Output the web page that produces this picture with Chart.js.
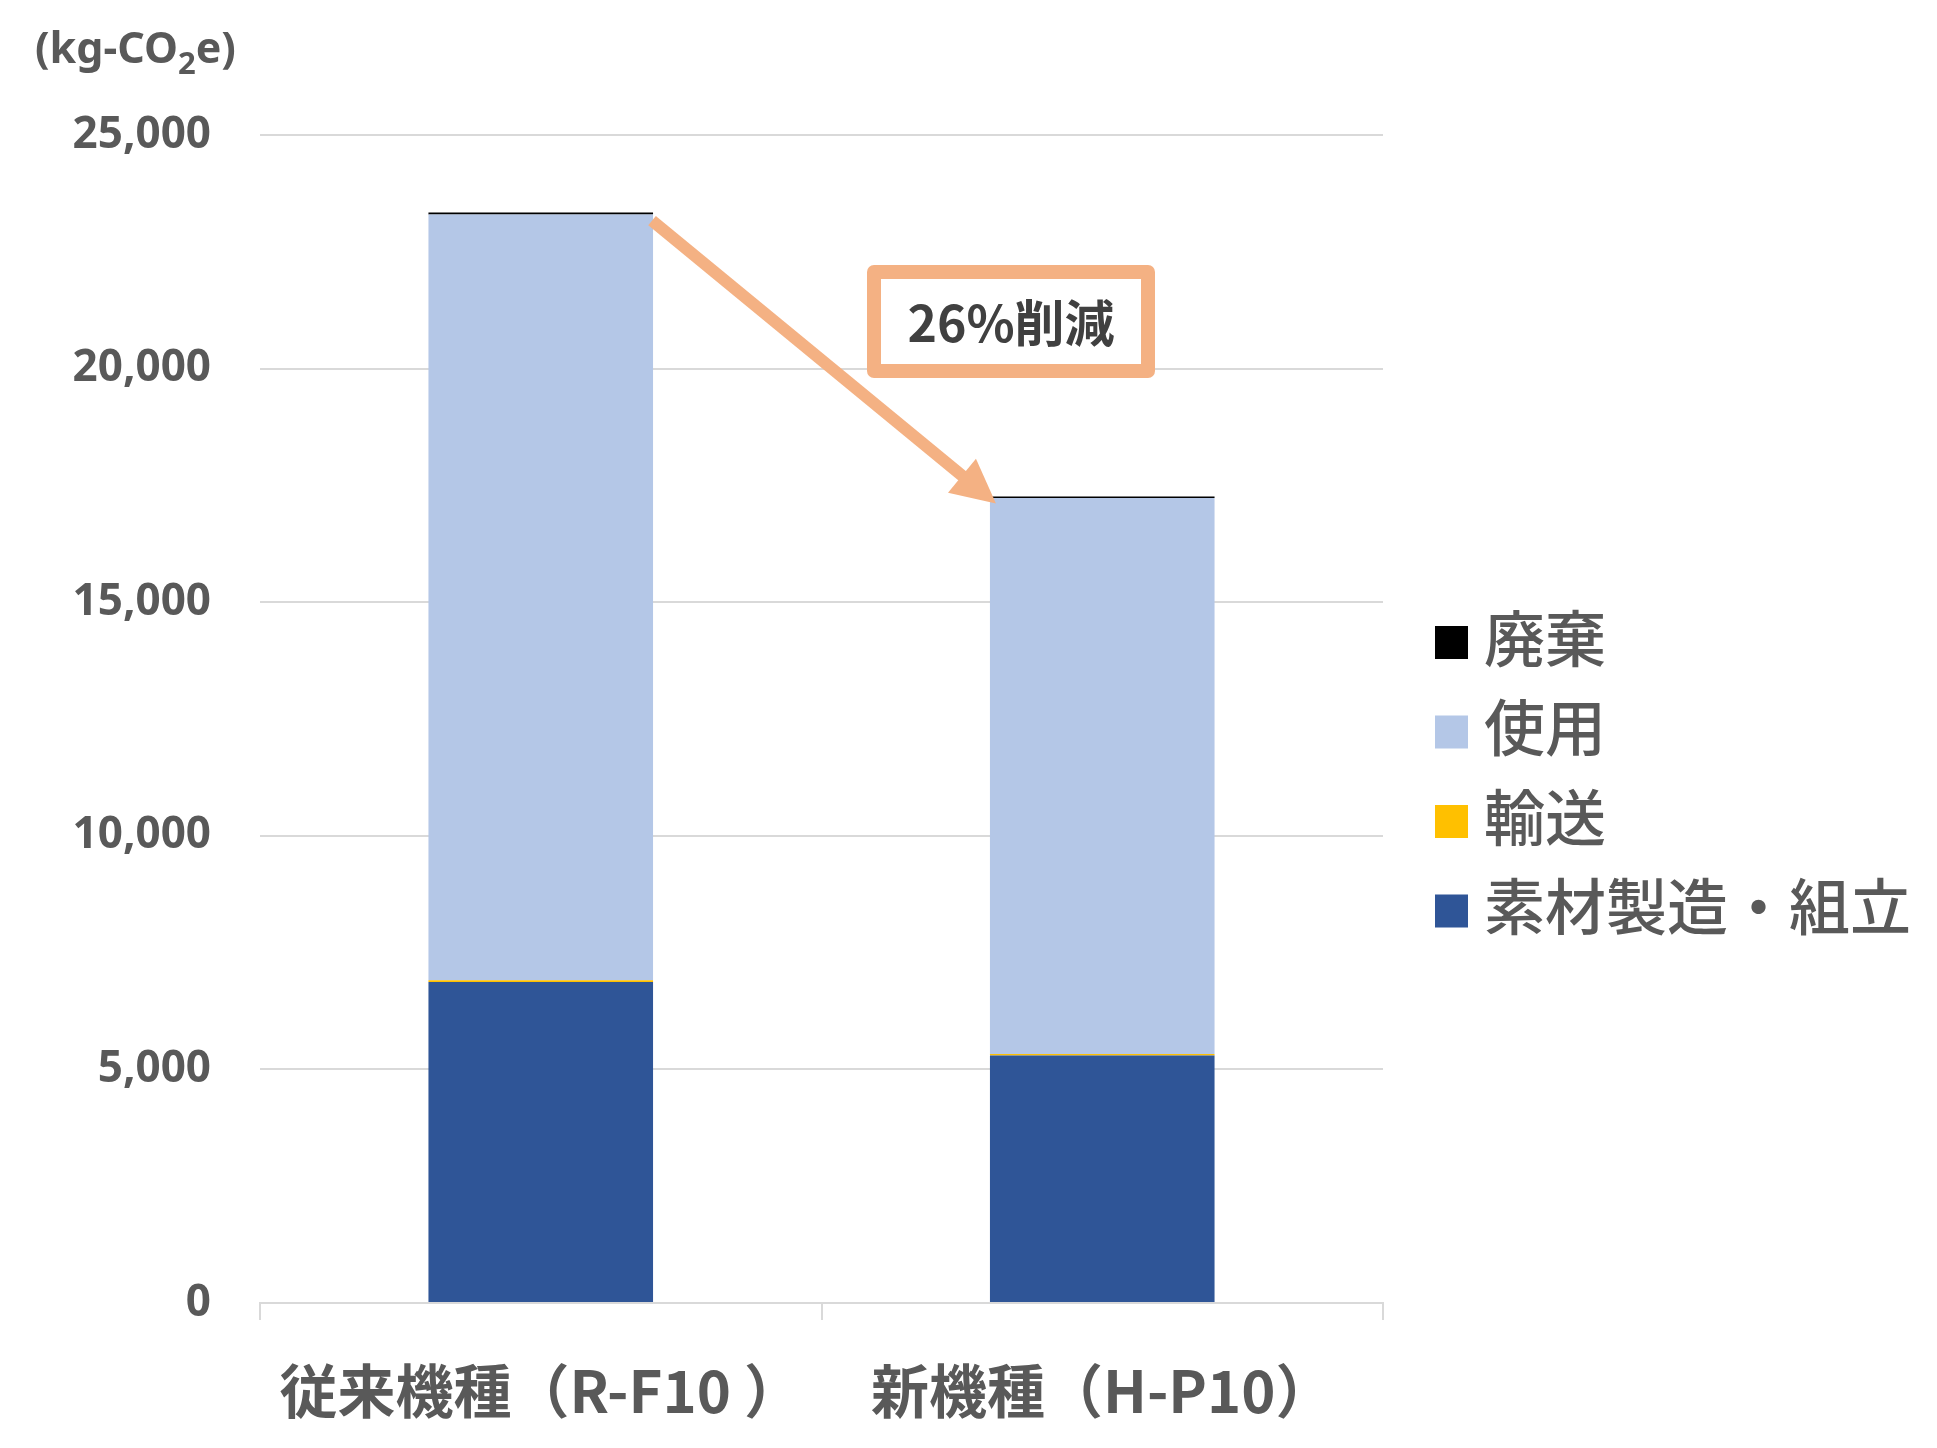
<!DOCTYPE html>
<html>
<head>
<meta charset="utf-8">
<script src="https://cdn.jsdelivr.net/npm/chart.js@4/dist/chart.umd.min.js"></script>
<style>
  html, body { margin: 0; padding: 0; background: #ffffff; }
  #wrap { width: 1937px; height: 1448px; position: relative; }
</style>
</head>
<body>
<div id="wrap"><canvas id="c" width="1937" height="1448"></canvas></div>
<script>
// ---- data ----
const categories = ['従来機種（R-F10 ）', '新機種（H-P10）'];
const seriesNames = ['素材製造・組立', '輸送', '使用', '廃棄'];
const materialValues = [6870, 5300];
const transportValues = [40, 30];
const useValues = [16390, 11900];
const disposalValues = [40, 30];
const yTicks = [0, 5000, 10000, 15000, 20000, 25000];
const unitLabel = ['(kg-CO', '2', 'e)'];
const reductionLabel = '26%削減';

const colors = ['#2F5597', '#FFC000', '#B4C7E7', '#000000'];
const valueSets = [materialValues, transportValues, useValues, disposalValues];

const GRAY = '#595959';
const ORANGE = '#F4B183';

const datasets = seriesNames.map((name, i) => ({
  label: name,
  data: valueSets[i],
  backgroundColor: colors[i],
  borderWidth: 0,
  categoryPercentage: 1.0,
  barPercentage: 0.4,
  stack: 's'
}));

const overlayPlugin = {
  id: 'overlay',
  afterDraw(chart) {
    const ctx = chart.ctx;
    ctx.save();

    // unit label with subscript
    ctx.fillStyle = GRAY;
    ctx.textBaseline = 'alphabetic';
    ctx.textAlign = 'left';
    let x = 35;
    ctx.font = 'bold 43px "Noto Sans"';
    ctx.fillText(unitLabel[0], x, 63);
    x += ctx.measureText(unitLabel[0]).width;
    ctx.font = 'bold 31px "Noto Sans"';
    ctx.fillText(unitLabel[1], x, 74);
    x += ctx.measureText(unitLabel[1]).width;
    ctx.font = 'bold 43px "Noto Sans"';
    ctx.fillText(unitLabel[2], x, 63);

    // arrow from bar 1 top to bar 2 top
    const metaTop = chart.getDatasetMeta(chart.data.datasets.length - 1);
    const b1 = metaTop.data[0], b2 = metaTop.data[1];
    const w1 = b1.width, w2 = b2.width;
    const sx = b1.x + w1 / 2 - 1, sy = b1.y + 8;
    const tx = b2.x - w2 / 2 + 6, ty = b2.y + 7;
    const ang = Math.atan2(ty - sy, tx - sx);
    const headLen = 44, headHalf = 22;
    const bx = tx - headLen * Math.cos(ang), by = ty - headLen * Math.sin(ang);
    ctx.strokeStyle = ORANGE;
    ctx.fillStyle = ORANGE;
    ctx.lineWidth = 12;
    ctx.lineCap = 'butt';
    ctx.beginPath();
    ctx.moveTo(sx, sy);
    ctx.lineTo(bx + 4 * Math.cos(ang), by + 4 * Math.sin(ang));
    ctx.stroke();
    ctx.beginPath();
    ctx.moveTo(tx, ty);
    ctx.lineTo(bx + headHalf * Math.sin(ang), by - headHalf * Math.cos(ang));
    ctx.lineTo(bx - headHalf * Math.sin(ang), by + headHalf * Math.cos(ang));
    ctx.closePath();
    ctx.fill();

    // annotation box
    const boxX = 867, boxY = 265, boxW = 288, boxH = 113, bw = 14;
    ctx.beginPath();
    ctx.roundRect(boxX, boxY, boxW, boxH, 7);
    ctx.fill();
    ctx.fillStyle = '#ffffff';
    ctx.fillRect(boxX + bw, boxY + bw, boxW - 2 * bw, boxH - 2 * bw);
    ctx.fillStyle = '#404040';
    ctx.font = 'bold 50px "Noto Sans CJK JP"';
    ctx.textAlign = 'center';
    ctx.textBaseline = 'middle';
    ctx.fillText(reductionLabel, boxX + boxW / 2, boxY + boxH / 2 + 1);

    // legend (reverse order)
    const ds = chart.data.datasets;
    ctx.textAlign = 'left';
    ctx.textBaseline = 'middle';
    ctx.font = '500 61px "Noto Sans CJK JP"';
    for (let k = 0; k < ds.length; k++) {
      const d = ds[ds.length - 1 - k];
      const cy = 642.5 + k * 89.5;
      ctx.fillStyle = d.backgroundColor;
      ctx.fillRect(1435, cy - 16.5, 33, 33);
      ctx.fillStyle = GRAY;
      ctx.fillText(d.label, 1484, cy - 4);
    }
    ctx.restore();
  }
};

new Chart(document.getElementById('c'), {
  type: 'bar',
  data: { labels: categories, datasets },
  options: {
    responsive: false,
    animation: false,
    layout: { padding: { left: 0, top: 135, right: 554, bottom: 0 } },
    plugins: { legend: { display: false }, tooltip: { enabled: false } },
    scales: {
      x: {
        stacked: true,
        afterFit(s) { s.height = 145; },
        grid: { display: true, offset: true, drawOnChartArea: false, drawTicks: true, tickLength: 17, color: '#d9d9d9', lineWidth: 2 },
        border: { display: true, color: '#d9d9d9', width: 2 },
        ticks: { color: GRAY, padding: 36, font: { family: '"Noto Sans CJK JP"', weight: 'bold', size: 58 } }
      },
      y: {
        stacked: true,
        min: yTicks[0],
        max: yTicks[yTicks.length - 1],
        afterFit(s) { s.width = 260; },
        afterBuildTicks(s) { s.ticks = yTicks.map(v => ({ value: v })); },
        grid: { color: '#d9d9d9', lineWidth: 2, drawTicks: false },
        border: { display: false },
        ticks: {
          color: GRAY, padding: 49,
          font: { family: '"Noto Sans"', weight: 'bold', size: 44 },
          callback: v => Number(v).toLocaleString('en-US')
        }
      }
    }
  },
  plugins: [overlayPlugin]
});
</script>
</body>
</html>
